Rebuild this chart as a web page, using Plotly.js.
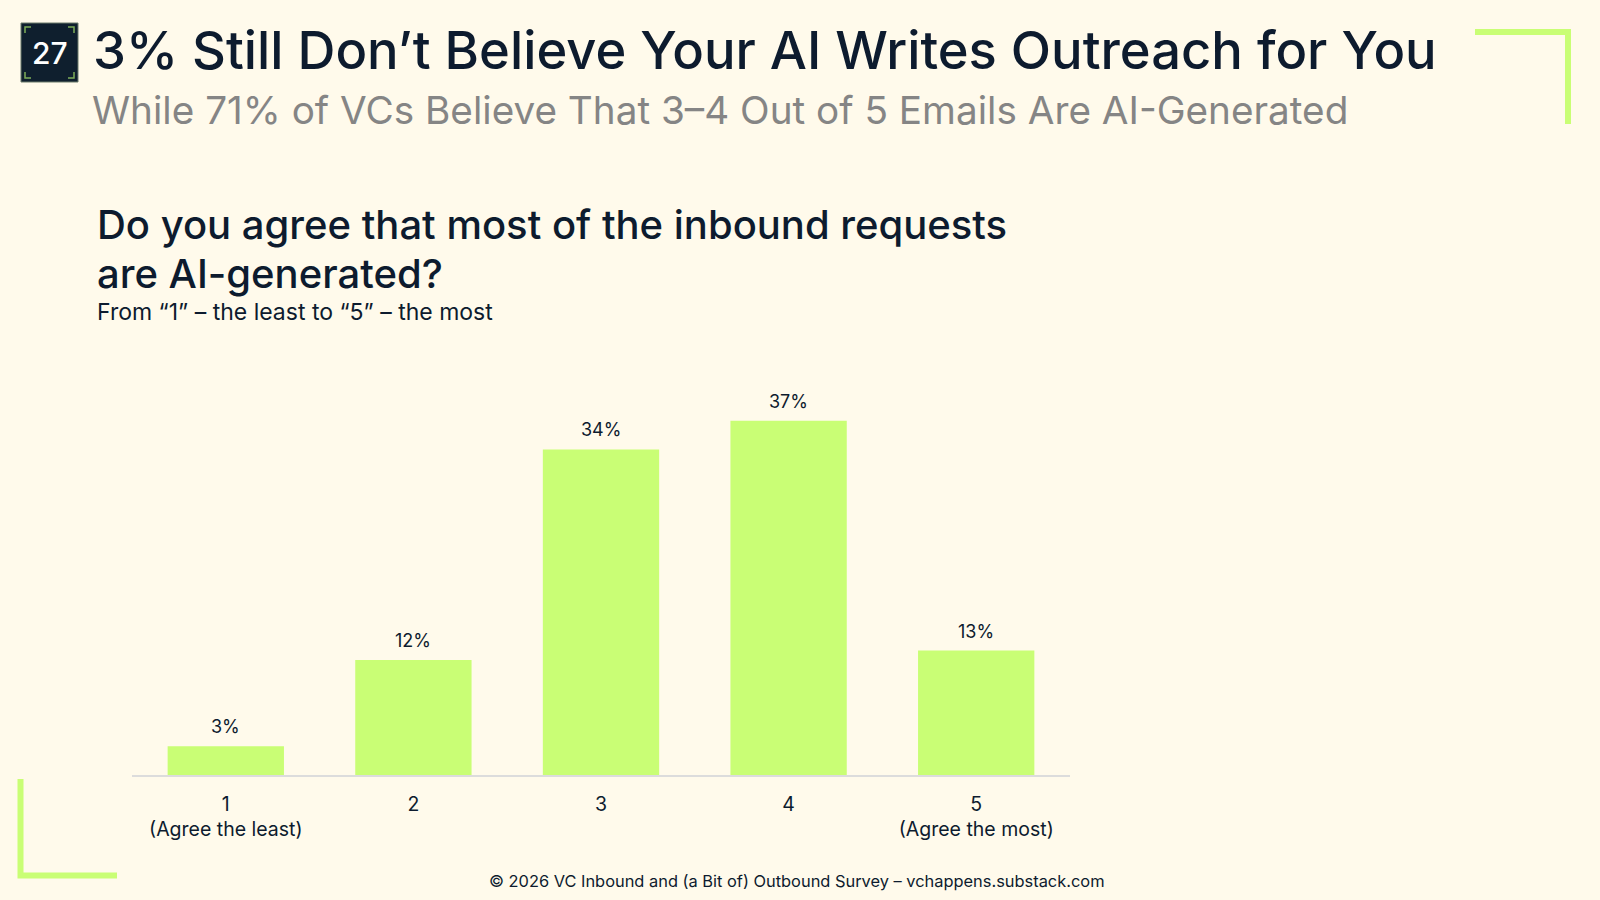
<!DOCTYPE html>
<html>
<head>
<meta charset="utf-8">
<script src="https://cdn.plot.ly/plotly-3.0.1.min.js"></script>
<style>
html,body{margin:0;padding:0;background:#fffaeb;}
#chart{width:1600px;height:900px;}
</style>
</head>
<body>
<div id="chart"></div>
<script>
// ---- data ----
const categories = ["1", "2", "3", "4", "5"];
const tickLabels = ["1<br>(Agree the least)", "2", "3", "4", "5<br>(Agree the most)"];
const shares = [3, 12, 34, 37, 13];
const shareLabels = ["3%", "12%", "34%", "37%", "13%"];

const titleText = "3% Still Don’t Believe Your AI Writes Outreach for You";
const subtitleText = "While 71% of VCs Believe That 3–4 Out of 5 Emails Are AI-Generated";
const questionLine1 = "Do you agree that most of the inbound requests";
const questionLine2 = "are AI-generated?";
const scaleText = "From “1” – the least to “5” – the most";
const footerText = "© 2026 VC Inbound and (a Bit of) Outbound Survey – vchappens.substack.com";
const pageNumber = "27";

// ---- layout geometry (pixels) ----
const W = 1600, H = 900;
const L = 132, R = 1070, T = 392, B = 775;
const FONT = "Inter, 'DejaVu Sans', sans-serif";
const NAVY = "#0d1b2e";
const LIME = "#c9fe75";

function px(x){ return (x - L) / (R - L); }
function py(y){ return (B - y) / (B - T); }

const trace = {
  type: "bar",
  x: categories,
  y: shares,
  marker: {color: LIME},
  hoverinfo: "skip",
  cliponaxis: false
};

// category index positions (numeric) so labels sit on their own bar
const barLabels = categories.map((c, i) => ({
  x: i, y: shares[i], xref: "x", yref: "y",
  text: shareLabels[i], showarrow: false,
  yanchor: "bottom", yshift: 7,
  font: {family: FONT, size: 18, color: NAVY}
}));

function paperText(x, y, text, font, opts){
  return Object.assign({
    xref: "paper", yref: "paper", x: px(x), y: py(y),
    text: text, showarrow: false, xanchor: "left", yanchor: "middle",
    align: "left",
    font: Object.assign({family: FONT}, font)
  }, opts || {});
}

const annotations = barLabels.concat([
  paperText(91, 84, titleText, {size: 52.5, color: NAVY, weight: 500}, {yanchor: "bottom"}),
  paperText(90, 135, subtitleText, {size: 38.7, color: "#858585"}, {yanchor: "bottom"}),
  paperText(95, 224.5, questionLine1, {size: 40, color: NAVY, weight: 500}),
  paperText(95, 273.5, questionLine2, {size: 40, color: NAVY, weight: 500}),
  paperText(95, 312, scaleText, {size: 23, color: NAVY}),
  paperText(797, 893, footerText, {size: 16.4, color: NAVY}, {xanchor: "center", yanchor: "bottom"}),
  paperText(49.5, 52.5, pageNumber, {size: 30, color: "#ffffff", weight: 500}, {xanchor: "center"})
]);

function path(d, color, width){
  return {type:"path", xref:"paper", yref:"paper", path:d, line:{color:color, width:width}, layer:"above"};
}
function P(points){
  return "M" + points.map(p => px(p[0]) + "," + py(p[1])).join(" L");
}

const shapes = [
  // badge
  {type:"rect", xref:"paper", yref:"paper", x0:px(21), x1:px(78), y0:py(23), y1:py(82),
   fillcolor:"#0f1f2e", line:{color:"#6b7a6b", width:1}, layer:"below"},
  path(P([[25,33],[25,27],[31,27]]), "#7fae5a", 1.5),
  path(P([[68,27],[74,27],[74,33]]), "#7fae5a", 1.5),
  path(P([[25,72],[25,78],[31,78]]), "#7fae5a", 1.5),
  path(P([[68,78],[74,78],[74,72]]), "#7fae5a", 1.5),
  // decorative brackets
  path(P([[1475,32],[1568,32],[1568,124]]), LIME, 6),
  path(P([[20.5,779],[20.5,875.5],[117,875.5]]), LIME, 6)
];

const layout = {
  width: W, height: H,
  paper_bgcolor: "#fffaeb",
  plot_bgcolor: "#fffaeb",
  margin: {l: L, r: W - R, t: T, b: H - B, pad: 0},
  showlegend: false,
  bargap: 0.38,
  xaxis: {
    type: "category",
    range: [-0.5, categories.length - 0.5],
    tickvals: categories,
    ticktext: tickLabels,
    tickfont: {family: FONT, size: 19.5, color: NAVY},
    showline: true, linecolor: "#dcdcdc", linewidth: 1.5,
    ticks: "outside", ticklen: 11, tickcolor: "rgba(0,0,0,0)",
    showgrid: false, zeroline: false, fixedrange: true
  },
  yaxis: {
    range: [0, 40],
    visible: false, showgrid: false, zeroline: false, fixedrange: true
  },
  annotations: annotations,
  shapes: shapes
};

Plotly.newPlot("chart", [trace], layout, {displayModeBar: false, staticPlot: true});
</script>
</body>
</html>
